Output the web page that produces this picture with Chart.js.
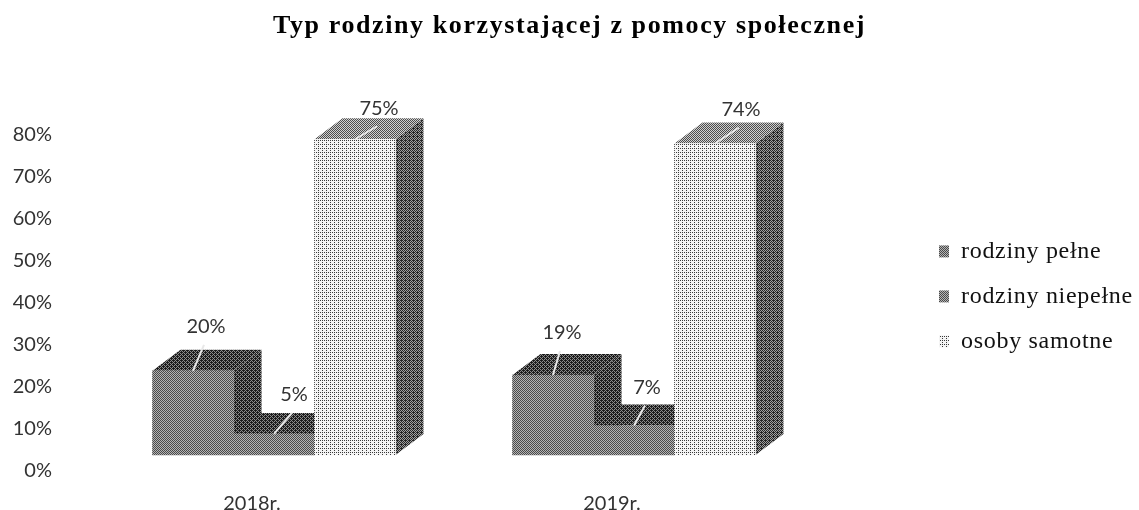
<!DOCTYPE html>
<html>
<head>
<meta charset="utf-8">
<style>
html, body { margin: 0; padding: 0; background: #fff; }
#wrap { width: 1139px; height: 510px; }
</style>
<script src="https://cdn.jsdelivr.net/npm/chart.js@4"></script>
</head>
<body>
<div id="wrap"><canvas id="typChart"></canvas></div>
<script>
const categories = ['2018r.', '2019r.'];
const rodzinyPelne = [20, 19];
const rodzinyNiepelne = [5, 7];
const osobySamotne = [75, 74];
const seriesNames = ['rodziny pełne', 'rodziny niepełne', 'osoby samotne'];
const chartTitle = 'Typ rodziny korzystającej z pomocy społecznej';

// where the value label sits relative to the top of the bar, per series and year
const labelDx = [[13, 9], [20, 13], [24, 26]];
const labelDy = [[-44, -42], [-39, -38], [-31, -34]];
const depthX = 28;
const depthY = 21;

//scanned look: ordered dither between two greys
const bayer = [0, 8, 2, 10, 12, 4, 14, 6, 3, 11, 1, 9, 15, 7, 13, 5];
function dither(dark, light, level) {
    let c = document.createElement('canvas');
    c.width = 4;
    c.height = 4;
    let g = c.getContext('2d');
    for (let i = 0; i < 16; i++) {
        g.fillStyle = (bayer[i] + 0.5) / 16 < level ? dark : light;
        g.fillRect(i % 4, Math.floor(i / 4), 1, 1);
    }
    return g.createPattern(c, 'repeat');
}

const frontFill = [dither('#4a4a4a', '#b4b4b4', 0.5), dither('#4a4a4a', '#b4b4b4', 0.5), dither('#3a3a3a', '#f4f4f4', 0.2)];
const sideFill = [dither('#1c1c1c', '#8c8c8c', 0.6), dither('#1c1c1c', '#8c8c8c', 0.6), dither('#262626', '#a0a0a0', 0.55)];
const topFill = [dither('#1c1c1c', '#8c8c8c', 0.6), dither('#1c1c1c', '#8c8c8c', 0.6), dither('#4c4c4c', '#d0d0d0', 0.5)];

function poly(ctx, fill, pts) {
    ctx.fillStyle = fill;
    ctx.beginPath();
    ctx.moveTo(pts[0][0], pts[0][1]);
    for (let i = 1; i < pts.length; i++) ctx.lineTo(pts[i][0], pts[i][1]);
    ctx.closePath();
    ctx.fill();
}

function spaced(box, spacing) {
    let draw = box.draw.bind(box);
    box.draw = function(area) {
        box.ctx.letterSpacing = spacing;
        draw(area);
        box.ctx.letterSpacing = '0px';
    };
}

const depthPlugin = {
    id: 'depth',
    afterInit(chart) {
        spaced(chart.titleBlock, '1.6px');
        spaced(chart.legend, '0.7px');
        // legend clips to its box, make the box reach the right edge of the page
        let fit = chart.legend.fit.bind(chart.legend);
        chart.legend.fit = function() {
            fit();
            chart.legend.width = 221;
        };
    },
    // Chart.js paints the last series first, here the bars must go left to right
    beforeDatasetsDraw(chart) {
        let ctx = chart.ctx;
        chart.data.datasets.forEach((ds, i) => {
            chart.getDatasetMeta(i).data.forEach(bar => {
                let l = bar.x - bar.width / 2;
                let r = bar.x + bar.width / 2;
                ctx.save();
                poly(ctx, sideFill[i], [[r, bar.y], [r + depthX, bar.y - depthY], [r + depthX, bar.base - depthY], [r, bar.base]]);
                poly(ctx, topFill[i], [[l, bar.y], [l + depthX, bar.y - depthY], [r + depthX, bar.y - depthY], [r, bar.y]]);
                ctx.restore();
                bar.draw(ctx);
            });
        });
    },
    beforeDatasetDraw() {
        return false;
    },
    afterDatasetsDraw(chart) {
        let ctx = chart.ctx;
        chart.data.datasets.forEach((ds, i) => {
            chart.getDatasetMeta(i).data.forEach((bar, j) => {
                let tx = bar.x + labelDx[i][j];
                let ty = bar.y + labelDy[i][j];
                ctx.save();
                ctx.strokeStyle = '#e8e8e8';
                ctx.lineWidth = 2;
                ctx.beginPath();
                ctx.moveTo(bar.x, bar.y);
                ctx.lineTo(tx - 2, ty + 18);
                ctx.stroke();
                ctx.fillStyle = '#333';
                ctx.font = '20px Lato';
                ctx.textAlign = 'center';
                ctx.textBaseline = 'middle';
                ctx.fillText(ds.data[j] + '%', tx, ty);
                ctx.restore();
            });
        });
    }
};

new Chart(document.getElementById('typChart'), {
    type: 'bar',
    plugins: [depthPlugin],
    data: {
        labels: categories,
        datasets: [
            { label: seriesNames[0], data: rodzinyPelne, backgroundColor: frontFill[0] },
            { label: seriesNames[1], data: rodzinyNiepelne, backgroundColor: frontFill[1] },
            { label: seriesNames[2], data: osobySamotne, backgroundColor: frontFill[2] }
        ]
    },
    options: {
        responsive: true,
        maintainAspectRatio: false,
        animation: false,
        datasets: { bar: { barThickness: 81 } },
        plugins: {
            tooltip: { enabled: false },
            title: {
                display: true,
                text: chartTitle,
                color: '#000',
                font: { family: 'Liberation Serif', size: 26, weight: 'bold' },
                padding: { top: 11, bottom: 76 }
            },
            legend: {
                position: 'right',
                align: 'start',
                title: { display: true, text: '', padding: { top: 204, bottom: 0 } },
                labels: {
                    boxWidth: 10,
                    boxHeight: 12,
                    padding: 21,
                    color: '#111',
                    font: { family: 'Liberation Serif', size: 24 }
                }
            }
        },
        scales: {
            x: {
                grid: { display: false, drawTicks: false },
                border: { display: false },
                afterFit: s => { s.height = 55; },
                ticks: {
                    color: '#333',
                    font: { family: 'Lato', size: 20 },
                    padding: 37,
                    labelOffset: -22
                }
            },
            y: {
                min: 0,
                max: 80,
                grid: { display: false, drawTicks: false },
                border: { display: false },
                afterFit: s => { s.width = 94; },
                ticks: {
                    stepSize: 10,
                    color: '#333',
                    font: { family: 'Lato', size: 20 },
                    padding: 42,
                    labelOffset: 16,
                    callback: v => v + '%'
                }
            },
            // empty box: keeps the gap between the plot and the legend
            gap: {
                position: 'right',
                grid: { display: false, drawTicks: false },
                border: { display: false },
                ticks: { display: false },
                afterFit: s => { s.width = 104; }
            }
        }
    }
});
</script>
</body>
</html>
